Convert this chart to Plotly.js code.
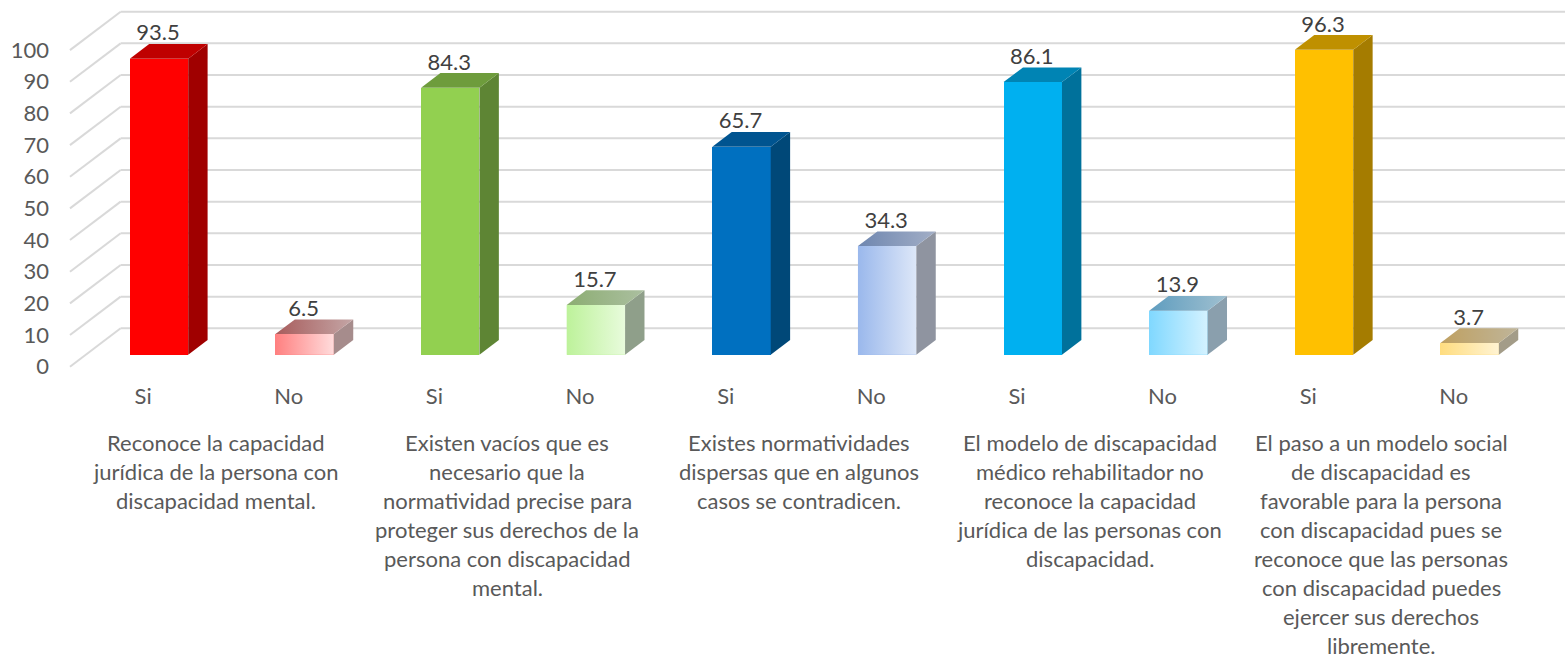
<!DOCTYPE html>
<html><head><meta charset="utf-8">
<script src="https://cdn.plot.ly/plotly-3.0.1.min.js"></script>
<style>html,body{margin:0;padding:0;background:#fff;overflow:hidden}#c{width:1565px;height:660px}</style>
</head><body><div id="c"></div>
<script>
const answers = ["Si","No","Si","No","Si","No","Si","No","Si","No"];
const values = [93.5,6.5,84.3,15.7,65.7,34.3,86.1,13.9,96.3,3.7];
const gridValues = [0,10,20,30,40,50,60,70,80,90,100];
const questionLines = [
 ["Reconoce la capacidad","jurídica de la persona con","discapacidad mental."],
 ["Existen vacíos que es","necesario que la","normatividad precise para","proteger sus derechos de la","persona con discapacidad","mental."],
 ["Existes normatividades","dispersas que en algunos","casos se contradicen."],
 ["El modelo de discapacidad","médico rehabilitador no","reconoce la capacidad","jurídica de las personas con","discapacidad."],
 ["El paso a un modelo social","de discapacidad es","favorable para la persona","con discapacidad pues se","reconoce que las personas","con discapacidad puedes","ejercer sus derechos","libremente."]
];
const frontColors = [["#FF0000","#FF0000"],["#FF8080","#FFDCDC"],["#92D050","#92D050"],["#BDF29A","#E8FBDC"],["#0070C0","#0070C0"],["#9AB8EC","#DDE7F8"],["#00B0F0","#00B0F0"],["#80D8FF","#D4F2FF"],["#FFC000","#FFC000"],["#FFDD80","#FFF3D2"]];
const topColors = [["#BF0000","#BF0000"],["#A85C5C","#C4A6A6"],["#6E9C3C","#6E9C3C"],["#8CAD72","#ABBFA0"],["#005490","#005490"],["#6F87B0","#A2AEC6"],["#0084B4","#0084B4"],["#5F9DBF","#A0C0D0"],["#BF9000","#BF9000"],["#BFA060","#BFB59A"]];
const sideColors = ["#A00000","#A68C8C","#5E8534","#8F9F8A","#004878","#8F94A0","#00719B","#8A9FAD","#A57C00","#A39C88"];

const W=1565,H=660,ML=50,FS=22;
const pxPerCat=145.63, pxPerVal=3.166, x0px=159, y0px=354.7;
const barW=58.4/pxPerCat, dX=19.4/pxPerCat, dY=14.7/pxPerVal;
const wallFront=-0.816, wallBack=1.796, wallLeft=-0.5026;
const xRange=[(ML-x0px)/pxPerCat,(W-x0px)/pxPerCat];
const yRange=[(y0px-H)/pxPerVal,y0px/pxPerVal];
const proj=(x,v,d)=>[x+d*dX,v+d*dY];
const idx=values.map((_,i)=>i);
const traces=[];
// back wall grid with side-wall diagonals, kept under the bars
const shapes=[];
const gridLine={color:'#D9D9D9',width:2};
gridValues.forEach(g=>{
  const a=proj(wallLeft,g,wallFront),b=proj(wallLeft,g,wallBack);
  shapes.push({type:'line',layer:'below',xref:'x',yref:'y',x0:a[0],y0:a[1],x1:b[0],y1:b[1],line:gridLine});
  shapes.push({type:'line',layer:'below',xref:'x',yref:'y',x0:b[0],y0:b[1],x1:xRange[1],y1:b[1],line:gridLine});
});
// front faces
traces.push({type:'bar',x:idx,y:values,width:barW,marker:{color:frontColors.map(c=>c[0]),line:{width:0}},hoverinfo:'skip',showlegend:false});
function poly(pts,grad,solid){
  const t={type:'scatter',mode:'lines',x:pts.map(p=>p[0]),y:pts.map(p=>p[1]),fill:'toself',line:{width:0},hoverinfo:'skip',showlegend:false};
  if(grad&&grad[0]!==grad[1]) t.fillgradient={type:'horizontal',colorscale:[[0,grad[0]],[1,grad[1]]]};
  else t.fillcolor=solid||grad[0];
  return t;
}
values.forEach((v,i)=>{
  const l=i-barW/2,r=i+barW/2;
  if(frontColors[i][0]!==frontColors[i][1]) traces.push(poly([[l,0],[r,0],[r,v],[l,v],[l,0]],frontColors[i]));
  traces.push(poly([proj(r,0,0),proj(r,0,1),proj(r,v,1),proj(r,v,0),proj(r,0,0)],null,sideColors[i]));
  traces.push(poly([proj(l,v,0),proj(r,v,0),proj(r,v,1),proj(l,v,1),proj(l,v,0)],topColors[i]));
});
// data labels
traces.push({type:'scatter',mode:'text',x:idx.map(i=>i-1/pxPerCat),y:values.map(v=>v+dY-2/pxPerVal),text:values.map(v=>v.toFixed(1)),textposition:'top center',textfont:{family:'Lato',size:FS,color:'#404040'},hoverinfo:'skip',showlegend:false});

const annotations=[];
const tickShift=wallFront*dX, valShift=wallFront*dY;
questionLines.forEach((lines,k)=>{
  lines.forEach((s,j)=>{
    annotations.push({xref:'x',yref:'paper',x:2*k+0.5+tickShift,y:1-(442.5+29*j)/H,xanchor:'center',yanchor:'middle',showarrow:false,text:s,font:{family:'Lato',size:FS,color:'#595959'}});
  });
});
const layout={
  width:W,height:H,margin:{l:ML,r:0,t:0,b:0},paper_bgcolor:'#fff',plot_bgcolor:'#fff',showlegend:false,bargap:0,
  xaxis:{range:xRange,anchor:'free',position:1-381/H,tickmode:'array',tickvals:idx.map(i=>i+tickShift),ticktext:answers,showgrid:false,zeroline:false,showline:false,ticks:'',tickfont:{family:'Lato',size:FS,color:'#595959'},automargin:false,tickangle:0},
  yaxis:{range:yRange,tickmode:'array',tickvals:gridValues.map(g=>g+valShift),ticktext:gridValues.map(String),showgrid:false,zeroline:false,showline:false,ticks:'',tickfont:{family:'Lato',size:FS,color:'#595959'},automargin:false},
  shapes,annotations
};
Plotly.newPlot('c',traces,layout,{displayModeBar:false,staticPlot:true});
</script></body></html>
